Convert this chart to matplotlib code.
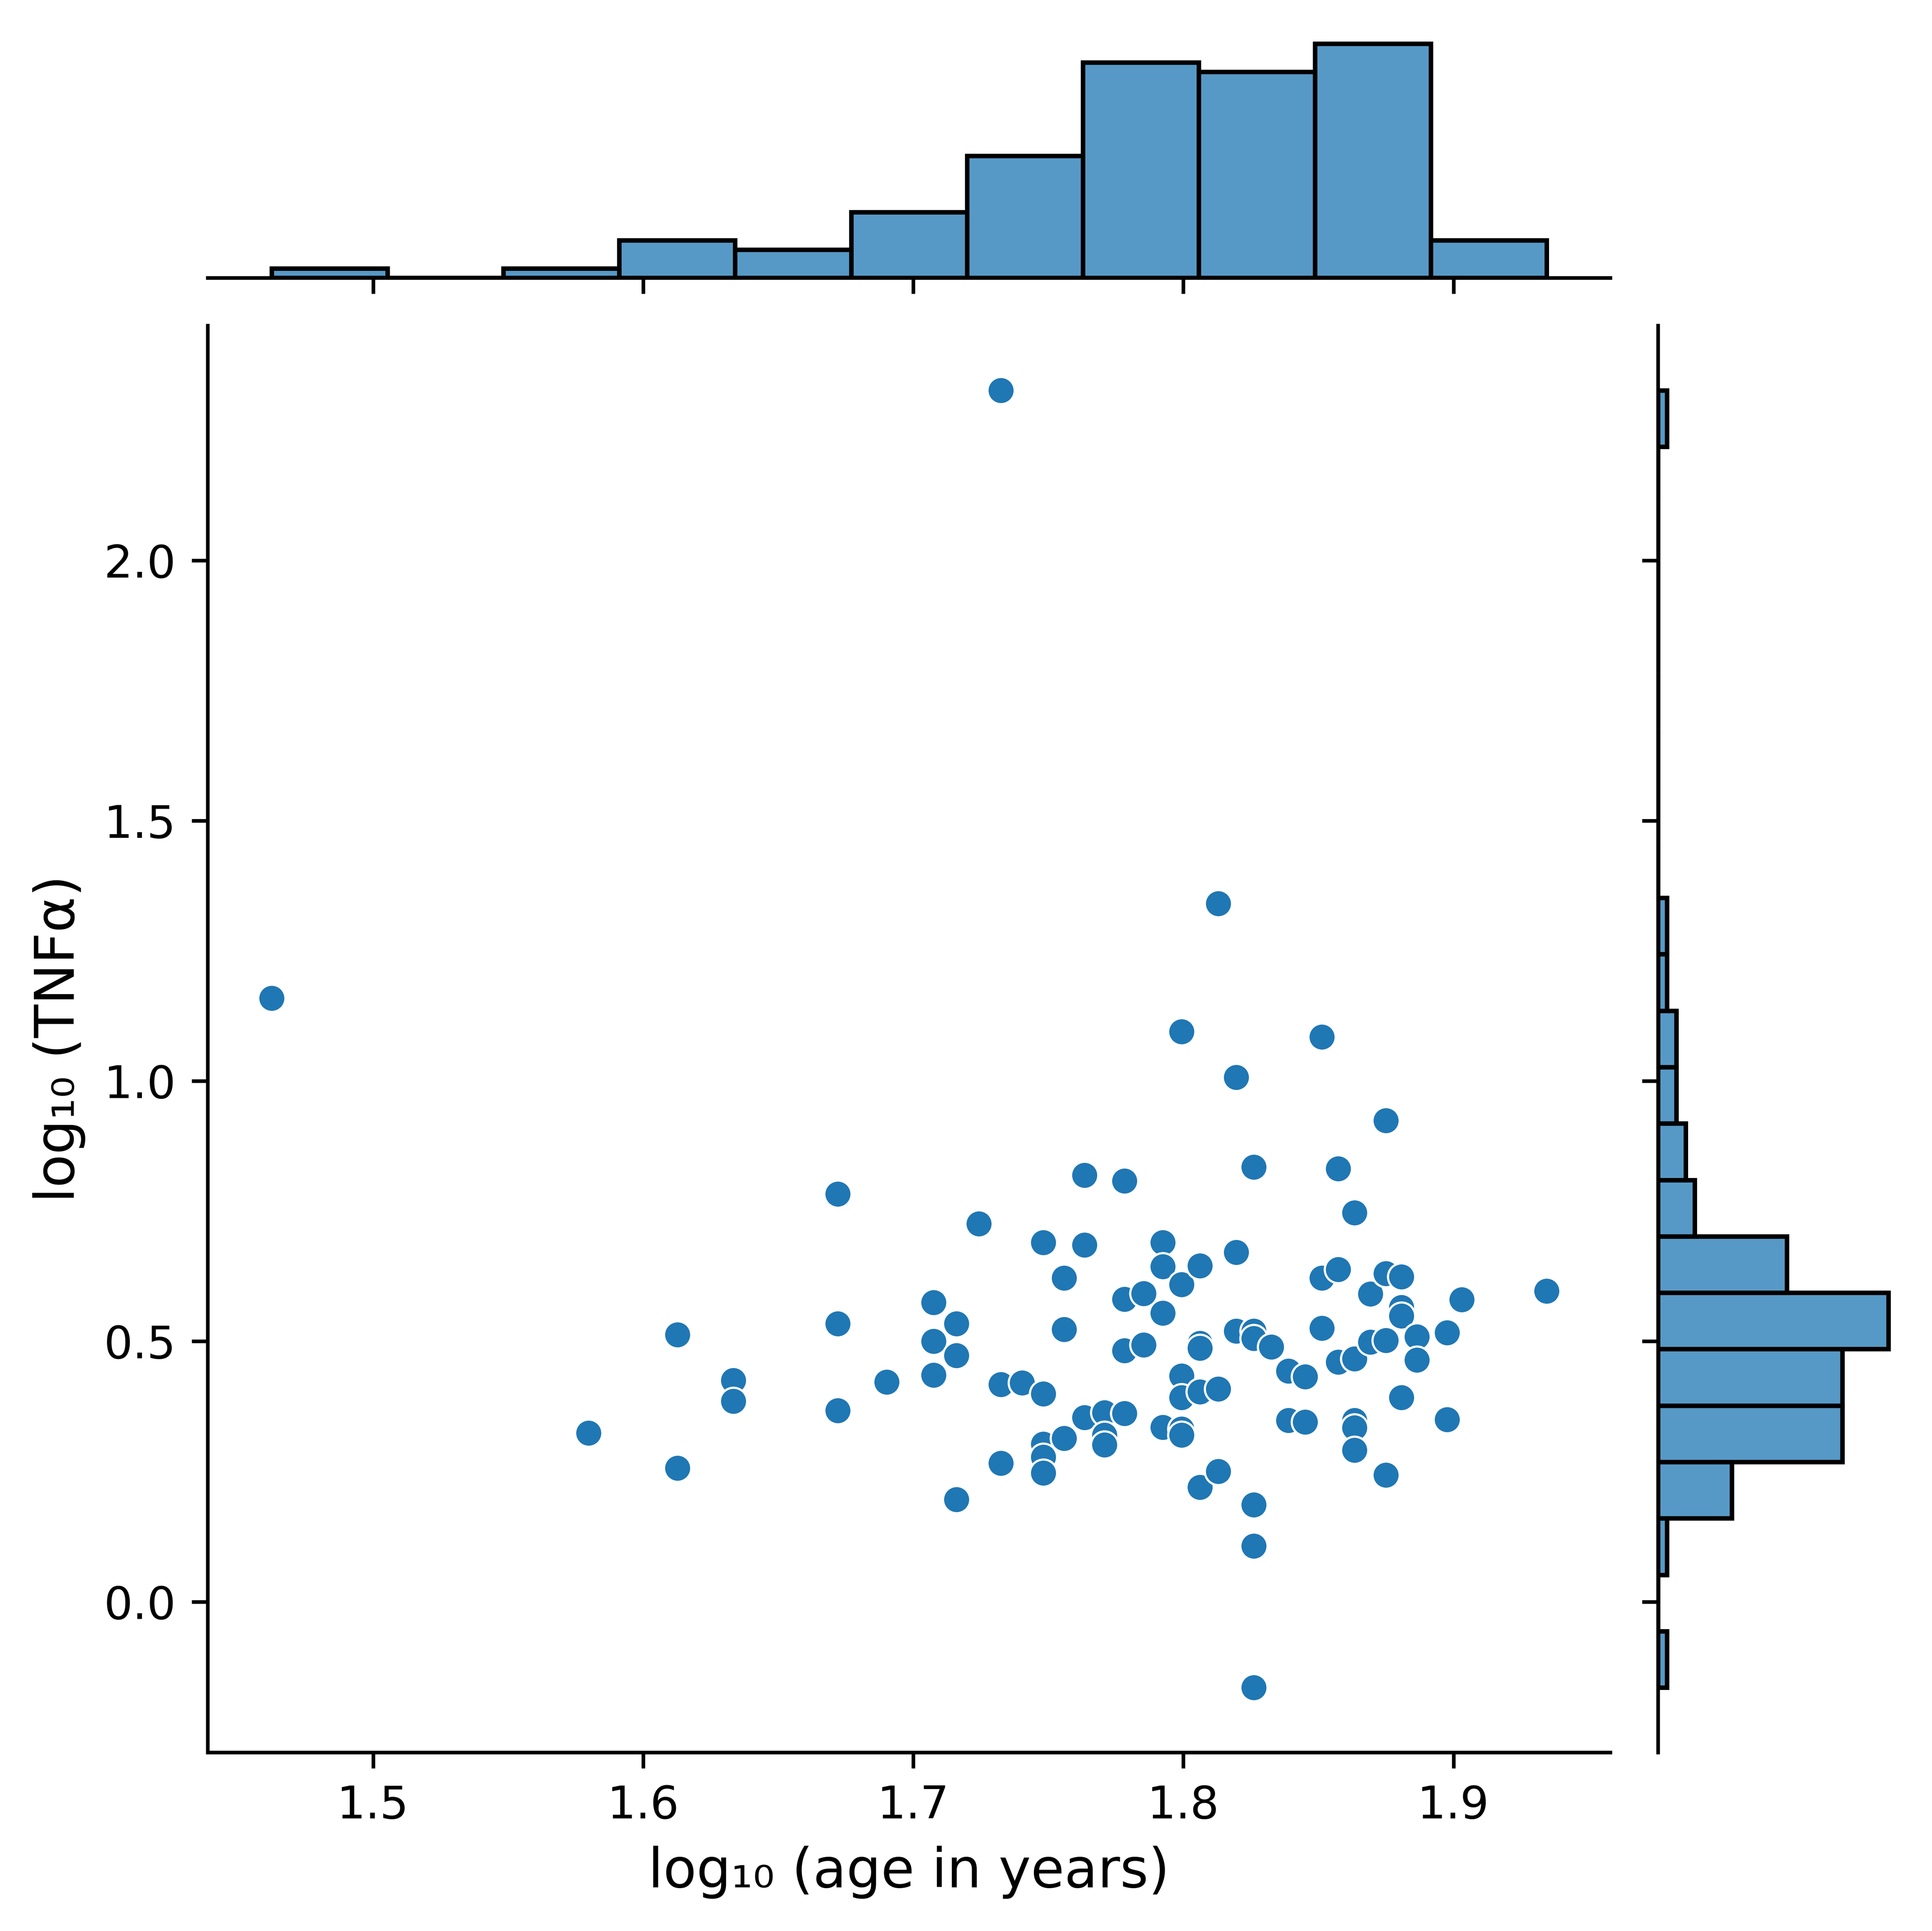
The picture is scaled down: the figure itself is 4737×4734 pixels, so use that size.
import numpy as np
import matplotlib
matplotlib.use("Agg")
import matplotlib.pyplot as plt
import seaborn as sns

# age of each subject in years, and log10 TNF-alpha
age_years = [29, 38, 41, 41, 43, 43, 47, 47, 47, 49,
             51, 51, 51, 52, 52, 52, 53, 54, 54, 54,
             55, 56, 56, 56, 56, 56, 57, 57, 57, 58,
             58, 58, 59, 59, 59, 60, 60, 60, 60, 60,
             61, 61, 62, 62, 62, 62, 63, 63, 63, 63,
             63, 63, 64, 64, 64, 64, 64, 65, 65, 65,
             66, 66, 66, 67, 67, 67, 67, 67, 67, 68,
             69, 69, 70, 70, 71, 71, 71, 72, 72, 72,
             73, 73, 73, 73, 73, 73, 74, 74, 75, 75,
             75, 75, 75, 76, 76, 76, 76, 77, 77, 79,
             79, 80, 86]
log_tnf = [1.159, 0.324, 0.513, 0.257, 0.425, 0.385, 0.783, 0.534, 0.367, 0.422,
           0.575, 0.500, 0.435, 0.534, 0.473, 0.196, 0.726, 2.327, 0.417, 0.266,
           0.420, 0.690, 0.399, 0.303, 0.278, 0.247, 0.622, 0.523, 0.314, 0.819,
           0.685, 0.354, 0.363, 0.320, 0.301, 0.808, 0.581, 0.482, 0.362, 0.362,
           0.592, 0.493, 0.690, 0.644, 0.554, 0.335, 1.095, 0.609, 0.434, 0.392,
           0.332, 0.320, 0.645, 0.496, 0.487, 0.403, 0.220, 1.341, 0.409, 0.250,
           1.007, 0.671, 0.520, 0.835, 0.520, 0.506, 0.186, 0.107, -0.165, 0.489,
           0.443, 0.348, 0.432, 0.345, 1.085, 0.622, 0.525, 0.832, 0.638, 0.460,
           0.747, 0.467, 0.467, 0.348, 0.334, 0.291, 0.591, 0.499, 0.924, 0.630,
           0.630, 0.502, 0.243, 0.624, 0.565, 0.549, 0.392, 0.509, 0.464, 0.517,
           0.350, 0.580, 0.597]

x = np.log10(age_years)
y = np.array(log_tnf)

g = sns.JointGrid(x=x, y=y, height=6)
g.plot_joint(sns.scatterplot)
sns.histplot(x=x, ax=g.ax_marg_x, bins=11, edgecolor="black", linewidth=1)
sns.histplot(y=y, ax=g.ax_marg_y, bins=23, edgecolor="black", linewidth=1)
g.set_axis_labels("log₁₀ (age in years)", "log₁₀ (TNFα)", fontsize=12)

# place the three axes like the reference
fig = g.figure
fig.set_size_inches(4737 / 800, 4734 / 800)
g.ax_joint.set_position([0.1075, 0.0925, 0.7260, 0.7390])
g.ax_marg_x.set_position([0.1075, 0.8562, 0.7260, 0.1273])
g.ax_marg_y.set_position([0.8581, 0.0925, 0.1252, 0.7390])

fig.savefig("out.png", dpi=800)
